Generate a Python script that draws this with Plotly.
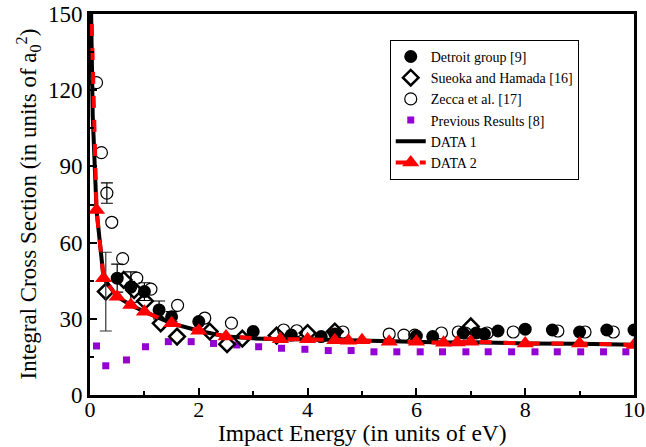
import plotly.graph_objects as go

# Detroit group [9]
det_x = [0.5, 0.75, 1.0, 1.27, 1.5, 2.0, 3.0, 3.7, 4.25, 4.5, 6.0, 6.3, 6.86, 7.1, 7.25, 7.5, 8.0, 8.5, 9.0, 9.5, 10.0]
det_y = [46.0, 42.5, 40.7, 33.5, 30.8, 28.9, 25.0, 23.6, 23.0, 24.0, 23.2, 23.0, 24.4, 24.4, 24.0, 25.2, 25.9, 25.6, 24.8, 25.6, 25.6]
det_err_x = [0.5, 0.75, 1.0, 1.27, 1.5]
det_err_y = [46.0, 42.5, 40.7, 33.5, 30.8]
det_err = [5.5, 6.0, 3.5, 3.5, 2.0]

# Sueoka and Hamada [16]
sue_x = [0.29, 0.62, 0.81, 1.01, 1.3, 1.6, 2.2, 2.52, 2.8, 3.43, 4.0, 4.5, 7.0]
sue_y = [40.7, 45.3, 41.3, 37.0, 28.2, 23.0, 25.0, 20.0, 22.2, 23.4, 24.4, 25.0, 27.0]
sue_err_x = [0.29]
sue_err_y = [40.7]
sue_err = [15.5]

# Zecca et al. [17]
zec_x = [0.12, 0.21, 0.31, 0.4, 0.6, 0.86, 1.12, 1.61, 2.11, 2.6, 3.56, 3.8, 4.65, 5.5, 5.77, 5.97, 6.46, 6.77, 6.9, 7.3, 7.78, 8.6, 9.1, 9.62]
zec_y = [123.0, 95.4, 79.5, 68.0, 53.7, 46.0, 41.7, 35.3, 30.3, 28.3, 25.6, 25.3, 24.8, 24.0, 23.6, 23.6, 24.4, 24.8, 24.4, 24.4, 24.8, 25.2, 24.8, 24.8]
zec_err_x = [0.31]
zec_err_y = [79.5]
zec_err = [4.0]

# Previous Results [8]
prev_x = [0.12, 0.29, 0.67, 1.02, 1.44, 1.86, 2.27, 2.7, 3.1, 3.52, 3.95, 4.38, 4.8, 5.22, 5.64, 6.07, 6.48, 6.91, 7.32, 7.75, 8.18, 8.59, 9.02, 9.44, 9.85]
prev_y = [19.3, 11.5, 13.8, 19.0, 21.0, 21.0, 20.3, 19.7, 19.0, 18.4, 18.0, 17.5, 17.5, 17.0, 17.0, 17.0, 17.0, 17.0, 17.0, 17.0, 17.0, 17.0, 17.0, 17.0, 17.0]

# DATA 1
d1_x = [0.01, 0.05, 0.12, 0.25, 0.5, 0.75, 1.0, 1.5, 2.0, 2.5, 3.0, 3.5, 4.0, 4.5, 5.0, 5.5, 6.0, 6.5, 7.0, 8.0, 9.0, 10.0]
d1_y = [165.0, 110.0, 72.8, 46.0, 38.7, 35.4, 32.8, 28.2, 25.3, 23.0, 22.3, 21.9, 21.9, 21.6, 21.5, 21.0, 21.0, 20.7, 20.8, 20.3, 20.2, 19.8]

# DATA 2
d2_x = [0.01, 0.12, 0.25, 0.5, 0.75, 1.0, 1.5, 2.0, 2.5, 3.5, 4.0, 4.5, 4.75, 5.0, 5.5, 6.0, 6.5, 6.75, 7.0, 8.0, 9.0, 10.0]
d2_y = [165.0, 72.8, 46.0, 38.7, 35.4, 32.8, 28.2, 25.3, 23.0, 21.9, 21.9, 21.6, 21.4, 21.6, 21.0, 21.0, 20.6, 20.7, 21.0, 20.3, 20.3, 19.7]

FONT = "Liberation Serif, Times New Roman, serif"

fig = go.Figure()

fig.add_trace(go.Scatter(
    x=d1_x, y=d1_y, mode="lines", name="DATA 1", legendrank=5,
    line=dict(color="black", width=4)))

fig.add_trace(go.Scatter(
    x=prev_x, y=prev_y, mode="markers", name="Previous Results [8]", legendrank=4,
    marker=dict(symbol="square", size=7, color="#9400D3")))

zec_marker = dict(symbol="circle-open", size=12, color="black", line=dict(width=1.2))
fig.add_trace(go.Scatter(
    x=zec_x, y=zec_y, mode="markers", name="Zecca et al. [17]", legendrank=3,
    marker=zec_marker))
fig.add_trace(go.Scatter(
    x=zec_err_x, y=zec_err_y, mode="markers", showlegend=False, hoverinfo="skip",
    marker=dict(size=1, color="rgba(0,0,0,0)"),
    error_y=dict(type="data", array=zec_err, color="black", thickness=1.2, width=6)))

sue_marker = dict(symbol="diamond-open", size=12, color="black", line=dict(width=2.5))
fig.add_trace(go.Scatter(
    x=sue_x, y=sue_y, mode="markers", name="Sueoka and Hamada [16]", legendrank=2,
    marker=sue_marker))
fig.add_trace(go.Scatter(
    x=sue_err_x, y=sue_err_y, mode="markers", showlegend=False, hoverinfo="skip",
    marker=dict(size=1, color="rgba(0,0,0,0)"),
    error_y=dict(type="data", array=sue_err, color="#333333", thickness=1.2, width=6)))

fig.add_trace(go.Scatter(
    x=det_x, y=det_y, mode="markers", name="Detroit group [9]", legendrank=1,
    marker=dict(symbol="circle", size=13, color="black")))
fig.add_trace(go.Scatter(
    x=det_err_x, y=det_err_y, mode="markers", showlegend=False, hoverinfo="skip",
    marker=dict(size=1, color="rgba(0,0,0,0)"),
    error_y=dict(type="data", array=det_err, color="black", thickness=1.2, width=6)))

fig.add_trace(go.Scatter(
    x=d2_x, y=d2_y, mode="lines+markers", name="DATA 2", legendrank=6,
    line=dict(color="#FF0000", width=4, dash="dash"),
    marker=dict(symbol="triangle-up", size=15, color="#FF0000")))

fig.update_layout(
    width=646, height=447,
    margin=dict(l=90, r=12, t=14, b=52),
    plot_bgcolor="white", paper_bgcolor="white",
    font=dict(family=FONT, color="black"),
    showlegend=True,
    legend=dict(
        x=0.551, y=0.932, xanchor="left", yanchor="top",
        bgcolor="white", bordercolor="black", borderwidth=1,
        font=dict(size=14, family=FONT),
        traceorder="normal", tracegroupgap=0, itemwidth=30),
    annotations=[
        dict(text="Impact Energy (in units of eV)", xref="paper", yref="paper",
             x=0.5, y=0, yshift=-38, xanchor="center", yanchor="middle",
             showarrow=False, font=dict(size=23.5, family=FONT)),
        dict(text="Integral Cross Section (in units of a<sub>0</sub><sup>2</sup>)",
             xref="paper", yref="paper", x=0, xshift=-62, y=0.5,
             xanchor="center", yanchor="middle", textangle=-90,
             showarrow=False, font=dict(size=23, family=FONT)),
    ],
)

fig.update_xaxes(
    range=[0, 10], tickvals=[0, 2, 4, 6, 8, 10], automargin=False,
    ticks="inside", ticklen=7, tickwidth=2, tickcolor="black",
    minor=dict(tickvals=[1, 3, 5, 7, 9], ticks="inside", ticklen=4, tickwidth=2, tickcolor="black"),
    showline=True, linewidth=3, linecolor="black", mirror=True,
    showgrid=False, zeroline=False,
    tickfont=dict(size=22, family=FONT), ticklabelstandoff=-7)

fig.update_yaxes(
    range=[0, 150], tickvals=[0, 30, 60, 90, 120, 150], automargin=False,
    ticks="inside", ticklen=7, tickwidth=2, tickcolor="black",
    minor=dict(tickvals=[15, 45, 75, 105, 135], ticks="inside", ticklen=4, tickwidth=2, tickcolor="black"),
    showline=True, linewidth=3, linecolor="black", mirror=True,
    showgrid=False, zeroline=False,
    tickfont=dict(size=23, family=FONT))

fig.write_html("out.html", config={"displayModeBar": False},
               post_script="document.body.style.margin='0px';document.body.style.padding='0px';")
